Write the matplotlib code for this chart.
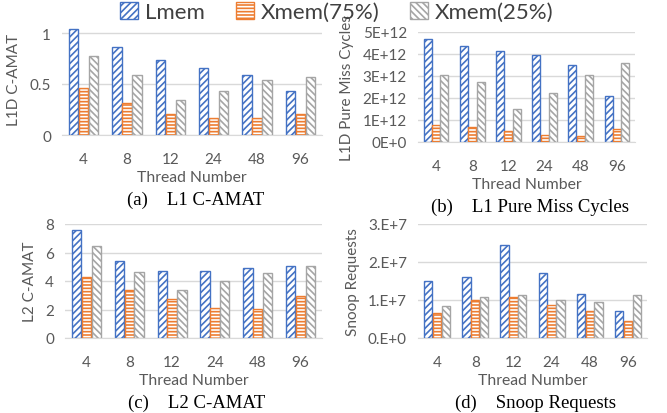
import numpy as np
import matplotlib
matplotlib.use("Agg")
import matplotlib.pyplot as plt
from matplotlib.patches import Patch
from matplotlib.ticker import FixedLocator, FixedFormatter

threads = ["4", "8", "12", "24", "48", "96"]
series = ["Lmem", "Xmem(75%)", "Xmem(25%)"]

l1_amat_lmem = [1.04, 0.86, 0.74, 0.655, 0.59, 0.43]
l1_amat_x75 = [0.465, 0.316, 0.21, 0.17, 0.17, 0.21]
l1_amat_x25 = [0.77, 0.59, 0.34, 0.43, 0.535, 0.57]

l1_miss_lmem = [4.66e12, 4.37e12, 4.15e12, 3.96e12, 3.52e12, 2.07e12]
l1_miss_x75 = [0.79e12, 0.69e12, 0.49e12, 0.32e12, 0.26e12, 0.58e12]
l1_miss_x25 = [3.05e12, 2.71e12, 1.49e12, 2.23e12, 3.05e12, 3.57e12]

l2_amat_lmem = [7.56, 5.4, 4.72, 4.72, 4.91, 5.05]
l2_amat_x75 = [4.3, 3.37, 2.74, 2.08, 2.01, 2.92]
l2_amat_x25 = [6.43, 4.65, 3.34, 3.98, 4.54, 5.05]

snoop_lmem = [1.51e7, 1.61e7, 2.44e7, 1.70e7, 1.17e7, 0.70e7]
snoop_x75 = [0.66e7, 1.01e7, 1.09e7, 0.88e7, 0.70e7, 0.44e7]
snoop_x25 = [0.84e7, 1.09e7, 1.13e7, 0.99e7, 0.96e7, 1.13e7]

colors = ["#4472C4", "#ED7D31", "#A5A5A5"]
hatches = ["/////", "-----", "\\\\\\\\\\"]
txt = "#595959"

plt.rcParams["font.family"] = ["Lato", "DejaVu Sans"]
plt.rcParams["hatch.linewidth"] = 1.2

W, H = 667, 414
fig = plt.figure(figsize=(W / 100, H / 100), dpi=100)


def panel(left, right, y0, ytop, top_val, ymax, ticks, labels, ylabel, caption, data):
    # place axes so that data 0 sits at pixel y0 and top_val at pixel ytop
    ppu = (y0 - ytop) / top_val
    top_px = y0 - ymax * ppu
    ax = fig.add_axes([left / W, 1 - y0 / H, (right - left) / W, (y0 - top_px) / H])
    x = np.arange(len(threads))
    w = 0.23
    for i, vals in enumerate(data):
        ax.bar(x + (i - 1) * w, vals, w * 0.95, facecolor="white", edgecolor=colors[i],
               hatch=hatches[i], linewidth=1.0, zorder=3)
    ax.set_xlim(-0.5, len(threads) - 0.5)
    ax.set_ylim(0, ymax)
    ax.yaxis.set_major_locator(FixedLocator(ticks))
    ax.yaxis.set_major_formatter(FixedFormatter(labels))
    ax.set_xticks(x)
    ax.set_xticklabels(threads)
    ax.grid(axis="y", color="#D9D9D9", linewidth=1.0, zorder=0)
    for s in ["top", "right", "left"]:
        ax.spines[s].set_visible(False)
    ax.spines["bottom"].set_color("#D9D9D9")
    ax.tick_params(axis="both", length=0, labelsize=11, colors=txt)
    ax.tick_params(axis="x", pad=12)
    ax.tick_params(axis="y", pad=8)
    ax.set_ylabel(ylabel, fontsize=11, color=txt, labelpad=6)
    ax.set_xlabel("Thread Number", fontsize=11.3, color=txt, labelpad=3)
    cx = (left + right) / 2 / W + 0.005
    fig.text(cx, 1 - (y0 + 64) / H, caption, ha="center", va="center",
             fontsize=13.5, family="Liberation Serif", color="black")
    return ax


panel(62, 322, 136, 34, 1.0, 1.1, [0, 0.5, 1], ["0", "0.5", "1"],
      "L1D C-AMAT", "(a)    L1 C-AMAT", [l1_amat_lmem, l1_amat_x75, l1_amat_x25])
panel(418, 635, 143, 33, 5e12, 5e12, [0, 1e12, 2e12, 3e12, 4e12, 5e12],
      ["0E+0", "1E+12", "2E+12", "3E+12", "4E+12", "5E+12"],
      "L1D Pure Miss Cycles", "(b)    L1 Pure Miss Cycles", [l1_miss_lmem, l1_miss_x75, l1_miss_x25])
panel(65, 322, 339, 225, 8, 8, [0, 2, 4, 6, 8], ["0", "2", "4", "6", "8"],
      "L2 C-AMAT", "(c)    L2 C-AMAT", [l2_amat_lmem, l2_amat_x75, l2_amat_x25])
panel(418, 647, 339, 225, 3e7, 3e7, [0, 1e7, 2e7, 3e7],
      ["0.E+0", "1.E+7", "2.E+7", "3.E+7"],
      "Snoop Requests", "(d)    Snoop Requests", [snoop_lmem, snoop_x75, snoop_x25])

handles = [Patch(facecolor="white", edgecolor=colors[i], hatch=hatches[i], label=series[i])
           for i in range(3)]
fig.legend(handles=handles, loc="center", bbox_to_anchor=(0.505, 1 - 13 / H), ncol=3,
           frameon=False, fontsize=16, handlelength=0.8, handleheight=0.8,
           handletextpad=0.3, columnspacing=1.4, labelcolor="#404040")

fig.savefig("out.png", dpi=100)
